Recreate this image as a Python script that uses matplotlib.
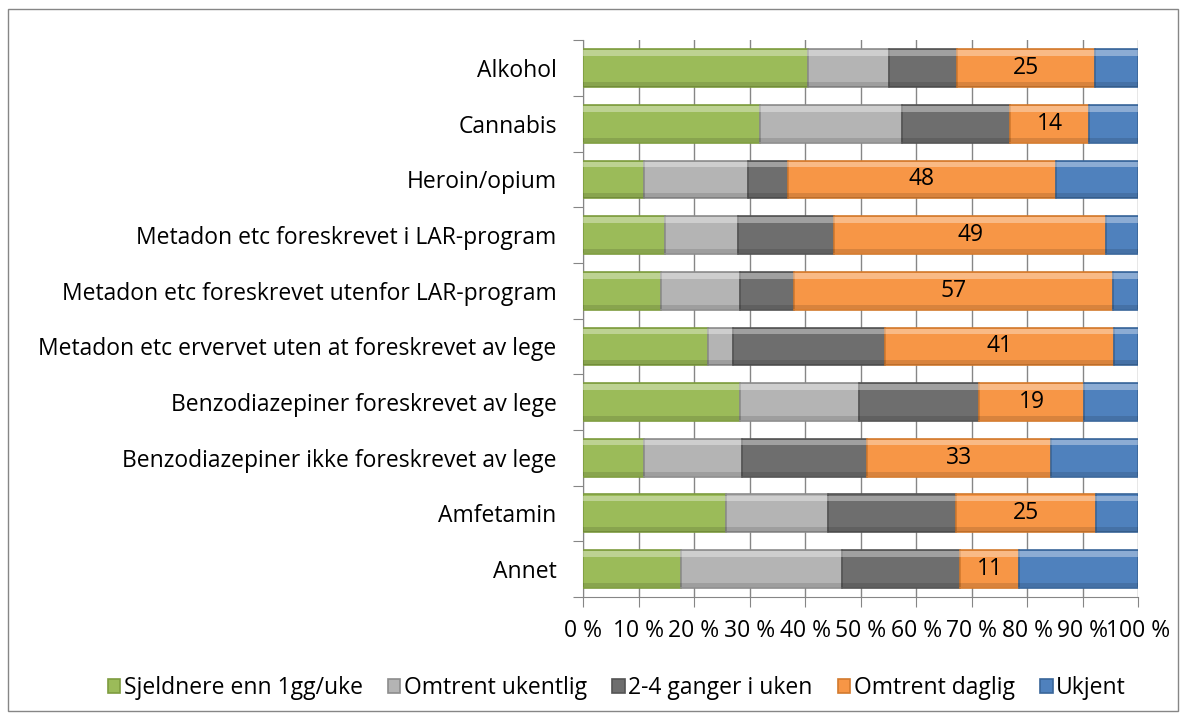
import matplotlib.pyplot as plt
import numpy as np
from matplotlib.patches import Rectangle

categories = [
    "Alkohol",
    "Cannabis",
    "Heroin/opium",
    "Metadon etc foreskrevet i LAR-program",
    "Metadon etc foreskrevet utenfor LAR-program",
    "Metadon etc ervervet uten at foreskrevet av lege",
    "Benzodiazepiner foreskrevet av lege",
    "Benzodiazepiner ikke foreskrevet av lege",
    "Amfetamin",
    "Annet",
]
series_names = [
    "Sjeldnere enn 1gg/uke",
    "Omtrent ukentlig",
    "2-4 ganger i uken",
    "Omtrent daglig",
    "Ukjent",
]
sjeldnere = [40.5, 31.8, 10.9, 14.7, 14.1, 22.5, 28.2, 10.9, 25.8, 17.7]
ukentlig = [14.7, 25.6, 18.9, 13.2, 14.1, 4.5, 21.5, 17.8, 18.3, 28.9]
ganger = [12.2, 19.6, 7.1, 17.3, 9.8, 27.4, 21.7, 22.4, 23.1, 21.3]
daglig = [24.9, 14.2, 48.3, 49.1, 57.4, 41.2, 18.9, 33.3, 25.2, 10.7]
ukjent = [7.7, 8.8, 14.8, 5.7, 4.6, 4.4, 9.7, 15.6, 7.6, 21.4]
daglig_labels = [25, 14, 48, 49, 57, 41, 19, 33, 25, 11]

colors = ["#9BBB59", "#B4B4B4", "#6E6E6E", "#F79646", "#4F81BD"]
edges = ["#7E9C3F", "#8C8C8C", "#545454", "#D27A2E", "#3A6699"]

plt.rcParams["font.family"] = ["Open Sans", "DejaVu Sans"]
FS = 16.5

fig = plt.figure(figsize=(11.86, 7.2), dpi=100)
ax = fig.add_axes([0.4916, 0.171, 0.468, 0.773])

data = np.array([sjeldnere, ukentlig, ganger, daglig, ukjent])
y = np.arange(len(categories))
height = 0.68
left = np.zeros(len(categories))
for i, name in enumerate(series_names):
    vals = data[i]
    ax.barh(y, vals, left=left, height=height, color=colors[i],
            edgecolor=edges[i], linewidth=1.2, label=name, zorder=3)
    # simple bevel: light strip on top, dark strip at the bottom
    ax.barh(y - height / 2 + 0.07, vals, left=left, height=0.1,
            color="white", alpha=0.35, linewidth=0, zorder=4)
    ax.barh(y + height / 2 - 0.05, vals, left=left, height=0.08,
            color="black", alpha=0.12, linewidth=0, zorder=4)
    if i == 3:
        for yy, l, v, lab in zip(y, left, vals, daglig_labels):
            ax.text(l + v / 2, yy, str(lab), ha="center", va="center",
                    fontsize=FS, color="black", zorder=5)
    left = left + vals

ax.set_xlim(0, 100)
ax.set_ylim(len(categories) - 0.5, -0.5)
ax.set_xticks(np.arange(0, 101, 10))
ax.set_xticklabels([f"{v} %" for v in range(0, 101, 10)], fontsize=FS)
ax.set_yticks(np.arange(-0.5, len(categories), 1.0))
ax.set_yticklabels([])
ax.set_yticks(y, minor=True)
ax.set_yticklabels(categories, minor=True, fontsize=FS)
ax.tick_params(axis="y", which="minor", length=0, pad=19)
ax.tick_params(axis="y", which="major", length=7, color="#868686")
ax.tick_params(axis="x", length=7, color="#868686", pad=9)
ax.grid(axis="x", color="#868686", linewidth=1, zorder=0)
for side in ["top", "right"]:
    ax.spines[side].set_visible(False)
for side in ["left", "bottom"]:
    ax.spines[side].set_color("#868686")

handles, labels = ax.get_legend_handles_labels()
fig.legend(handles, labels, loc="center", bbox_to_anchor=(0.52, 0.044), ncol=5,
           frameon=False, fontsize=FS, handlelength=0.55, handleheight=0.55,
           handletextpad=0.15, columnspacing=1.1)

fig.patches.append(Rectangle((0.007, 0.012), 0.986, 0.976, transform=fig.transFigure,
                             fill=False, edgecolor="#868686", linewidth=1))

fig.savefig("out.png", dpi=100)
